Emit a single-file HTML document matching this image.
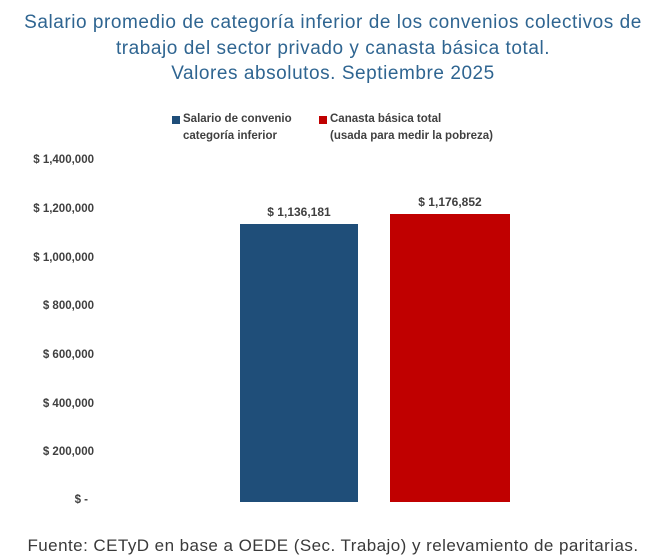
<!DOCTYPE html>
<html><head><meta charset="utf-8"><style>
body{margin:0;width:666px;height:560px;background:#fff;position:relative;overflow:hidden;font-family:"Liberation Sans",sans-serif}
.t{position:absolute;left:0;width:666px;text-align:center;color:#2f6591;font-size:19px;line-height:25.5px;top:10px;letter-spacing:0.55px}
.y{position:absolute;right:572px;font-size:11.5px;font-weight:bold;color:#404040;transform:translateY(-50%)}
.bar{position:absolute}
.lbl{position:absolute;font-size:12px;font-weight:bold;color:#404040;text-align:center;width:140px}
.lg{position:absolute;font-size:11.5px;font-weight:bold;color:#404040;line-height:17px}
.sq{position:absolute;width:8px;height:8px}
.f{position:absolute;left:0;width:666px;text-align:center;top:536px;font-size:17px;color:#3a3a3a;letter-spacing:0.45px}
</style></head><body>
<div class="t">Salario promedio de categoría inferior de los convenios colectivos de<br>trabajo del sector privado y canasta básica total.<br>Valores absolutos. Septiembre 2025</div>
<div class="sq" style="left:172px;top:116px;background:#1f4e79"></div>
<div class="lg" style="left:183px;top:111px">Salario de convenio<br>categoría inferior</div>
<div class="sq" style="left:319px;top:116px;background:#c00000"></div>
<div class="lg" style="left:330px;top:111px">Canasta básica total<br>(usada para medir la pobreza)</div>
<div class="y" style="top:160px">$ 1,400,000</div>
<div class="y" style="top:209px">$ 1,200,000</div>
<div class="y" style="top:258px">$ 1,000,000</div>
<div class="y" style="top:306px">$ 800,000</div>
<div class="y" style="top:355px">$ 600,000</div>
<div class="y" style="top:404px">$ 400,000</div>
<div class="y" style="top:452px">$ 200,000</div>
<div class="y" style="top:500px;right:578px">$ -</div>
<div class="bar" style="left:240px;top:224px;width:118px;height:278px;background:#1f4e79"></div>
<div class="bar" style="left:390px;top:214px;width:120px;height:288px;background:#c00000"></div>
<div class="lbl" style="left:229px;top:205px">$ 1,136,181</div>
<div class="lbl" style="left:380px;top:195px">$ 1,176,852</div>
<div class="f">Fuente: CETyD en base a OEDE (Sec. Trabajo) y relevamiento de paritarias.</div>
</body></html>
